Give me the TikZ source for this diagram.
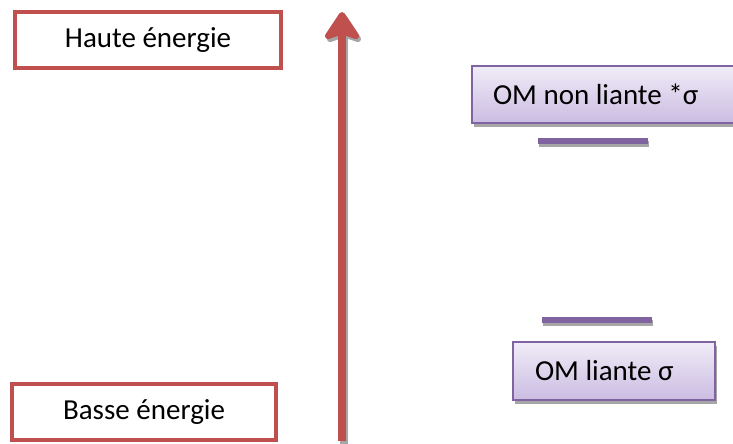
\documentclass[tikz,border=0pt]{standalone}
\usepackage{fontspec}
\setmainfont{Carlito}
\usetikzlibrary{arrows.meta,shadows}
\definecolor{redline}{HTML}{C0504D}
\definecolor{purpline}{HTML}{8064A2}
\definecolor{lavtop}{HTML}{F0ECF7}
\definecolor{lavbot}{HTML}{CBBCE2}
\definecolor{shadowgray}{HTML}{A6A6A6}
\tikzset{
  energybox/.style={draw=redline, line width=4pt, fill=white, inner sep=0pt,
    font=\fontsize{29}{34}\selectfont},
  ombox/.style={draw=purpline, line width=1.5pt, top color=lavtop, bottom color=lavbot,
    inner ysep=0pt, align=flush left, font=\fontsize{29}{34}\selectfont,
    general shadow={shadow xshift=2pt, shadow yshift=-4pt, fill=shadowgray}},
  level/.style={fill=purpline, draw=none, inner sep=0pt, minimum height=6pt,
    general shadow={shadow xshift=1pt, shadow yshift=-3pt, fill=shadowgray}},
  energyarrow/.style={draw=redline, line width=8pt,
    -{Stealth[length=32pt, width=42pt, inset=7pt, round]}},
  arrowshadow/.style={draw=shadowgray, line width=8pt,
    -{Stealth[length=32pt, width=42pt, inset=7pt, round]}}
}
\begin{document}
\begin{tikzpicture}[x=1pt, y=1pt]
\useasboundingbox (0,0) rectangle (733,-444);
% energy labels
\node[energybox, minimum width=266pt, minimum height=56pt] (haute) at (148,-40) {Haute énergie};
\node[energybox, minimum width=264pt, minimum height=56pt] (basse) at (144,-412) {Basse énergie};
% arrow
\coordinate (abot) at (342,-441);
\coordinate (atop) at (342,-12);
\coordinate (sbot) at (344,-444);
\coordinate (stop) at (344,-15);
\draw[arrowshadow] (sbot) -- (stop);
\draw[energyarrow] (abot) -- (atop);
% molecular orbitals
\node[ombox, text width=222pt, inner xsep=21pt, minimum height=57pt] (omnl) at (604,-94.5) {OM non liante *σ};
\node[level, minimum width=110pt] (lvlnl) at (593,-141) {};
\node[level, minimum width=110pt] (lvll) at (597,-319.5) {};
\node[ombox, text width=158pt, inner xsep=22pt, minimum height=58pt] (oml) at (614,-371) {OM liante σ};
\end{tikzpicture}
\end{document}
